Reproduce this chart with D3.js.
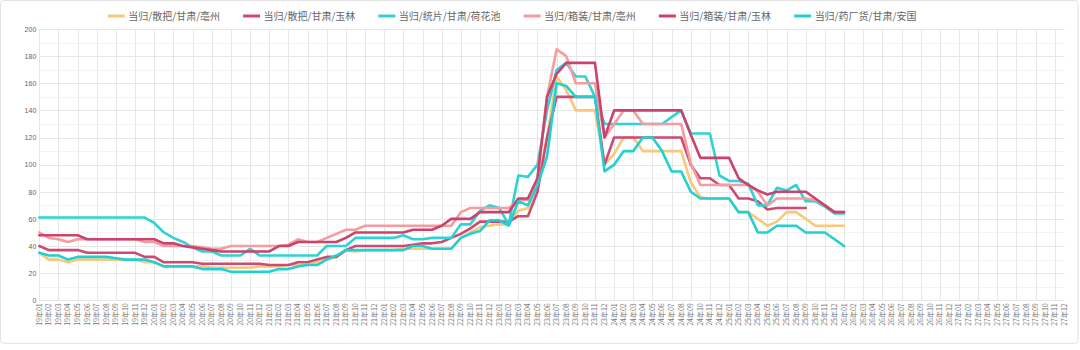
<!DOCTYPE html>
<html>
<head>
<meta charset="utf-8">
<script src="https://cdn.jsdelivr.net/npm/d3@7"></script>
<style>
  html, body { margin: 0; padding: 0; background: #fff; }
  svg { display: block; }
</style>
</head>
<body>
<svg id="chart" width="1080" height="350"></svg>
<script>
// ---------- DATA ----------
const years = ["19", "20", "21", "22", "23", "24", "25", "26", "27"];
const months = ["01","02","03","04","05","06","07","08","09","10","11","12"];
const categories = [];
years.forEach(yy => months.forEach(mm => categories.push(yy + "年" + mm)));

const yTicks = [0, 20, 40, 60, 80, 100, 120, 140, 160, 180, 200];

const seriesNames = [
  "当归/散把/甘肃/亳州",
  "当归/散把/甘肃/玉林",
  "当归/统片/甘肃/荷花池",
  "当归/箱装/甘肃/亳州",
  "当归/箱装/甘肃/玉林",
  "当归/药厂货/甘肃/安国"
];
const seriesColors = ["#f8c87c", "#cf4a73", "#2fd3d5", "#f49c9e", "#c9436d", "#22d0d2"];

// 当归/散把/甘肃/亳州
const sanbaBozhou = [35,30,30,28,30,30,30,30,30,30,30,28,28,25,25,25,25,25,24,24,
  24,24,24,25,25,25,26,26,26,28,30,32,37,36,37,37,37,37,38,38,
  38,38,38,38,46,50,54,55,56,56,66,68,85,120,165,155,140,140,140,100,
  108,120,120,110,110,110,110,110,87,76,75,75,75,65,65,60,55,58,65,65,
  60,55,55,55,55];
// 当归/散把/甘肃/玉林
const sanbaYulin = [40,37,37,37,37,35,35,35,35,35,35,32,32,28,28,28,28,27,27,27,
  27,27,27,27,26,26,26,28,28,30,32,32,37,40,40,40,40,40,40,41,
  42,42,43,46,49,53,58,58,58,58,62,62,80,120,150,150,150,150,150,100,
  120,120,120,120,120,120,120,120,100,90,90,85,85,75,75,73,67,68,68,68,
  68];
// 当归/统片/甘肃/荷花池
const tongpianHehuachi = [61,61,61,61,61,61,61,61,61,61,61,61,57,50,46,43,39,36,36,33,
  33,33,38,33,33,33,33,33,33,33,40,40,40,46,46,46,46,46,48,45,
  45,46,46,46,56,56,66,70,68,56,92,91,100,140,170,175,165,165,150,130,
  130,130,130,130,130,130,135,140,123,123,123,92,88,88,86,70,70,83,81,85,
  73,73,69,64,64];
// 当归/箱装/甘肃/亳州
const xiangzhuangBozhou = [50,46,45,43,45,45,45,45,45,45,45,43,43,40,40,40,40,39,38,38,
  40,40,40,40,40,40,41,45,43,43,46,49,52,52,55,55,55,55,55,55,
  55,55,55,55,65,68,68,68,68,68,74,74,90,150,185,180,160,160,160,120,
  130,140,140,130,130,130,130,130,101,85,85,85,85,85,85,80,70,75,75,75,
  75,74,70,65,65];
// 当归/箱装/甘肃/玉林
const xiangzhuangYulin = [48,48,48,48,48,45,45,45,45,45,45,45,45,42,42,40,39,38,37,36,
  36,36,36,36,36,40,40,43,43,43,43,43,46,50,50,50,50,50,50,52,
  52,52,55,60,60,60,65,65,65,65,75,75,90,150,167,175,175,175,175,120,
  140,140,140,140,140,140,140,140,122,105,105,105,105,90,85,81,78,80,80,80,
  80,75,70,65,65];
// 当归/药厂货/甘肃/安国
const yaochangAnguo = [35,33,33,30,32,32,32,32,31,30,30,30,28,25,25,25,25,23,23,23,
  21,21,21,21,21,23,23,25,26,26,30,33,37,37,37,37,37,37,37,40,
  40,38,38,38,46,49,51,59,59,55,73,70,85,106,160,158,150,150,150,95,
  100,110,110,120,120,110,95,95,80,75,75,75,75,65,65,50,50,55,55,55,
  50,50,50,45,40];

const seriesValues = [sanbaBozhou, sanbaYulin, tongpianHehuachi, xiangzhuangBozhou, xiangzhuangYulin, yaochangAnguo];

// ---------- LAYOUT ----------
const svg = d3.select("#chart");
const plotLeft = 39.3, plotRight = 1064.4, plotTop = 29, plotBottom = 300.3;

// card border
svg.append("rect")
  .attr("x", 0.5).attr("y", 0.5).attr("width", 1077.5).attr("height", 342.8)
  .attr("rx", 3).attr("fill", "#fff").attr("stroke", "#e2e2e2").attr("stroke-width", 1);

const x = d3.scalePoint().domain(categories).range([plotLeft, plotRight]);
const y = d3.scaleLinear().domain([0, 200]).range([plotBottom, plotTop]);

const grid = svg.append("g");
// faint minor horizontal lines
grid.selectAll("line.minor").data(d3.range(10, 200, 20)).enter().append("line")
  .attr("x1", plotLeft).attr("x2", plotRight)
  .attr("y1", d => Math.round(y(d)) + 0.5).attr("y2", d => Math.round(y(d)) + 0.5)
  .attr("stroke", "#f3f3f3").attr("stroke-width", 1);
// major horizontal lines
grid.selectAll("line.h").data(yTicks).enter().append("line")
  .attr("x1", plotLeft).attr("x2", plotRight)
  .attr("y1", d => Math.round(y(d)) + 0.5).attr("y2", d => Math.round(y(d)) + 0.5)
  .attr("stroke", "#e6e6e6").attr("stroke-width", 1);
// vertical lines every 2 categories
grid.selectAll("line.v").data(categories.filter((c, i) => i % 2 === 0)).enter().append("line")
  .attr("x1", d => Math.round(x(d)) + 0.5).attr("x2", d => Math.round(x(d)) + 0.5)
  .attr("y1", plotTop).attr("y2", plotBottom)
  .attr("stroke", "#e6e6e6").attr("stroke-width", 1);

// y axis labels
const yAxis = d3.axisLeft(y).tickValues(yTicks).tickSize(0).tickPadding(3);
const yg = svg.append("g").attr("transform", `translate(${plotLeft},0)`).call(yAxis);
yg.select(".domain").remove();
yg.selectAll("text")
  .attr("font-family", "'Liberation Sans', Arial, sans-serif")
  .attr("font-size", 7).attr("fill", "#666");

// x axis labels (rotated)
const xAxis = d3.axisBottom(x).tickSize(0).tickPadding(0);
const xg = svg.append("g").attr("transform", `translate(0,${plotBottom})`).call(xAxis);
xg.select(".domain").remove();
xg.selectAll("text")
  .attr("font-family", "'Noto Sans CJK SC', sans-serif")
  .attr("font-size", 7).attr("fill", "#777")
  .attr("text-anchor", "end")
  .attr("dy", "0.35em")
  .attr("x", -3).attr("y", -0.5)
  .attr("transform", "rotate(-90)");

// lines
const line = d3.line()
  .defined(d => d.v != null)
  .x(d => x(d.c)).y(d => y(d.v));

const linesG = svg.append("g");
seriesValues.forEach((vals, si) => {
  const pts = vals.map((v, i) => ({ c: categories[i], v: v }));
  linesG.append("path")
    .datum(pts)
    .attr("d", line)
    .attr("fill", "none")
    .attr("stroke", seriesColors[si])
    .attr("stroke-width", 2.6)
    .attr("stroke-linejoin", "round")
    .attr("stroke-linecap", "round");
});

// legend
const legend = svg.append("g");
let lx = 107.8;
const ly = 16;
seriesNames.forEach((name, si) => {
  const g = legend.append("g");
  g.append("line")
    .attr("x1", lx).attr("x2", lx + 17)
    .attr("y1", ly).attr("y2", ly)
    .attr("stroke", seriesColors[si]).attr("stroke-width", 3);
  const t = g.append("text")
    .attr("x", lx + 20.5).attr("y", ly)
    .attr("dy", "0.35em")
    .attr("font-family", "'Noto Sans CJK SC', sans-serif")
    .attr("font-size", 10).attr("fill", "#666")
    .text(name);
  const w = t.node().getComputedTextLength();
  lx += 20.5 + w + 23;
});
</script>
</body>
</html>
